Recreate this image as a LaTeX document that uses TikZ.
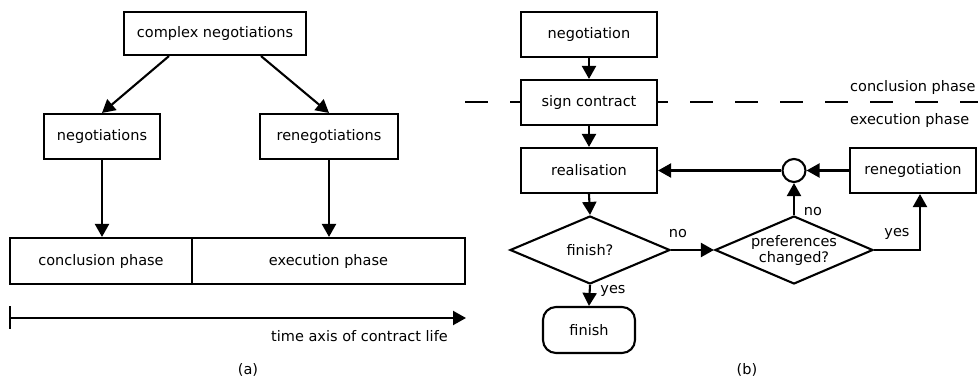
\documentclass[tikz,border=0pt]{standalone}
\usepackage{fontspec}
\setmainfont{DejaVu Sans}
\usetikzlibrary{arrows.meta,shapes.geometric}
\begin{document}
\begin{tikzpicture}[x=1pt,y=-1pt,
  every node/.style={font=\fontsize{14.5}{17}\selectfont},
  box/.style={draw,line width=2.1pt,fill=white,inner sep=0pt,align=center},
  dia/.style={draw,shape=diamond,line width=2.1pt,fill=white,inner sep=0pt},
  arr/.style={line width=2.1pt,-{Triangle[length=13pt,width=14pt]}},
  plain/.style={line width=2.1pt},
  lbl/.style={inner sep=0pt,align=center}]
\useasboundingbox (0,0) rectangle (978,380);
% ---------- (a)
\node[box,minimum width=182pt,minimum height=43pt] (cn) at (215,33.5) {complex negotiations};
\node[box,minimum width=116pt,minimum height=45pt] (neg) at (102,136.5) {negotiations};
\node[box,minimum width=138pt,minimum height=45pt] (ren) at (329,136.5) {renegotiations};
\node[box,minimum width=182pt,minimum height=46pt] (concl) at (101,261) {conclusion phase};
\node[box,minimum width=273pt,minimum height=46pt] (exec) at (328.5,261) {execution phase};
\draw[arr] ([xshift=-46pt]cn.south) -- (neg.north);
\draw[arr] ([xshift=46pt]cn.south) -- (ren.north);
\draw[arr] (neg.south) -- (neg.south |- concl.north);
\draw[arr] (ren.south) -- (ren.south |- exec.north);
\coordinate (t0) at (10,318);
\coordinate (t1) at (466,318);
\coordinate (tk0) at (10,306);
\coordinate (tk1) at (10,329);
\draw[arr] (t0) -- (t1);
\draw[plain] (tk0) -- (tk1);
\node[lbl] (tal) at (359.5,336) {time axis of contract life};
\node[lbl] (la) at (248,370) {(a)};
% ---------- (b)
\coordinate (d0) at (465,102);
\coordinate (d1) at (978,102);
\draw[plain,dash pattern=on 23pt off 22pt] (d0) -- (d1);
\node[lbl,anchor=west] (cp) at (850,87) {conclusion phase};
\node[lbl,anchor=west] (ep) at (850,120) {execution phase};
\node[box,minimum width=136pt,minimum height=45pt] (neg2) at (589,34.5) {negotiation};
\node[box,minimum width=136pt,minimum height=45pt] (sign) at (589,102.5) {sign contract};
\node[box,minimum width=136pt,minimum height=45pt] (real) at (589,170.5) {realisation};
\node[draw,circle,line width=2.1pt,fill=white,minimum size=23pt,inner sep=0pt] (c) at (794,170.5) {};
\node[box,minimum width=126pt,minimum height=45pt] (ren2) at (913,170.5) {renegotiation};
\node[dia,minimum width=160pt,minimum height=68pt] (fq) at (590,250) {};
\node[lbl] (fqt) at (fq.center) {finish?};
\node[dia,minimum width=158pt,minimum height=68pt] (pc) at (794,250) {};
\node[lbl] (pct) at (pc.center) {preferences\\[-1pt]changed?};
\node[box,rounded corners=13pt,minimum width=92pt,minimum height=46pt] (fin) at (589,330) {finish};
\draw[arr] (neg2.south) -- (sign.north);
\draw[arr] (sign.south) -- (real.north);
\draw[arr] (real.south) -- (fq.north);
\draw[arr] (fq.east) -- (pc.west);
\draw[arr] (pc.north) -- (c.south);
\draw[arr] (pc.east) -| ([xshift=7pt]ren2.south);
\draw[arr] (ren2.west) -- (c.east);
\draw[arr] (c.west) -- (real.east);
\draw[arr] (fq.south) -- (fin.north);
\node[lbl] (no1) at (678,234) {no};
\node[lbl] (no2) at (813,212) {no};
\node[lbl] (yes1) at (897,234) {yes};
\node[lbl] (yes2) at (613,291) {yes};
\node[lbl] (lb) at (747,370) {(b)};
\end{tikzpicture}
\end{document}
